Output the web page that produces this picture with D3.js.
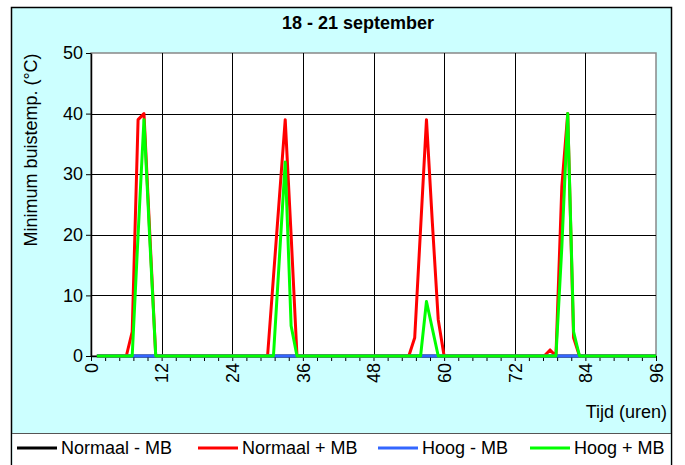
<!DOCTYPE html>
<html>
<head>
<meta charset="utf-8">
<script src="https://cdn.jsdelivr.net/npm/d3@7"></script>
<style>
  body { margin: 0; background: #fff; }
  svg { display: block; font-family: "Liberation Sans", Arial, sans-serif; }
</style>
</head>
<body>
<svg id="chart" width="685" height="465"></svg>
<script>
const width = 685
const height = 465

// hours 1..96, one value per hour
const hours = d3.range(1, 97)

const seriesNames = ['Normaal - MB', 'Normaal + MB', 'Hoog - MB', 'Hoog + MB']
const seriesColors = ['#000000', '#ff0000', '#3366ff', '#00ff00']

const normaalMin = [
  0, 0, 0, 0, 0, 0, 0, 0, 0, 0, 0, 0,
  0, 0, 0, 0, 0, 0, 0, 0, 0, 0, 0, 0,
  0, 0, 0, 0, 0, 0, 0, 0, 0, 0, 0, 0,
  0, 0, 0, 0, 0, 0, 0, 0, 0, 0, 0, 0,
  0, 0, 0, 0, 0, 0, 0, 0, 0, 0, 0, 0,
  0, 0, 0, 0, 0, 0, 0, 0, 0, 0, 0, 0,
  0, 0, 0, 0, 0, 0, 0, 0, 0, 0, 0, 0,
  0, 0, 0, 0, 0, 0, 0, 0, 0, 0, 0, 0
]
const normaalPlus = [
  0, 0, 0, 0, 0, 0, 4, 39, 40, 20, 0, 0,
  0, 0, 0, 0, 0, 0, 0, 0, 0, 0, 0, 0,
  0, 0, 0, 0, 0, 0, 13, 26, 39, 20, 0, 0,
  0, 0, 0, 0, 0, 0, 0, 0, 0, 0, 0, 0,
  0, 0, 0, 0, 0, 0, 3, 21, 39, 22, 6, 0,
  0, 0, 0, 0, 0, 0, 0, 0, 0, 0, 0, 0,
  0, 0, 0, 0, 0, 1, 0, 28, 40, 3, 0, 0,
  0, 0, 0, 0, 0, 0, 0, 0, 0, 0, 0, 0
]
const hoogMin = [
  0, 0, 0, 0, 0, 0, 0, 0, 0, 0, 0, 0,
  0, 0, 0, 0, 0, 0, 0, 0, 0, 0, 0, 0,
  0, 0, 0, 0, 0, 0, 0, 0, 0, 0, 0, 0,
  0, 0, 0, 0, 0, 0, 0, 0, 0, 0, 0, 0,
  0, 0, 0, 0, 0, 0, 0, 0, 0, 0, 0, 0,
  0, 0, 0, 0, 0, 0, 0, 0, 0, 0, 0, 0,
  0, 0, 0, 0, 0, 0, 0, 0, 0, 0, 0, 0,
  0, 0, 0, 0, 0, 0, 0, 0, 0, 0, 0, 0
]
const hoogPlus = [
  0, 0, 0, 0, 0, 0, 0, 20, 39, 19, 0, 0,
  0, 0, 0, 0, 0, 0, 0, 0, 0, 0, 0, 0,
  0, 0, 0, 0, 0, 0, 0, 16, 32, 5, 0, 0,
  0, 0, 0, 0, 0, 0, 0, 0, 0, 0, 0, 0,
  0, 0, 0, 0, 0, 0, 0, 0, 9, 4.5, 0, 0,
  0, 0, 0, 0, 0, 0, 0, 0, 0, 0, 0, 0,
  0, 0, 0, 0, 0, 0, 0, 18, 40, 4, 0, 0,
  0, 0, 0, 0, 0, 0, 0, 0, 0, 0, 0, 0
]
const seriesValues = [normaalMin, normaalPlus, hoogMin, hoogPlus]

const yTicks = [0, 10, 20, 30, 40, 50]
const xLabels = [0, 12, 24, 36, 48, 60, 72, 84, 96]
const xMinorCount = 40   // tick marks every 96/40 hours

const plot = { left: 91, right: 656, top: 53, bottom: 356 }

const x = d3.scaleLinear().domain([0, 96]).range([plot.left, plot.right])
const y = d3.scaleLinear().domain([0, 50]).range([plot.bottom, plot.top])

const svg = d3.select('#chart')

// outer frame + chart background
svg.append('rect')
  .attr('x', 11.5).attr('y', 7.5)
  .attr('width', 660).attr('height', 470)
  .attr('fill', '#ccffff')
  .attr('stroke', '#000').attr('stroke-width', 1.5)

// legend area
svg.append('rect')
  .attr('x', 12.5).attr('y', 433.5)
  .attr('width', 658).attr('height', 40)
  .attr('fill', '#fff')
svg.append('line')
  .attr('x1', 12).attr('x2', 671)
  .attr('y1', 433.5).attr('y2', 433.5)
  .attr('stroke', '#555')

// plot area
svg.append('rect')
  .attr('x', plot.left).attr('y', plot.top)
  .attr('width', plot.right - plot.left).attr('height', plot.bottom - plot.top)
  .attr('fill', '#fff')
  .attr('stroke', '#888').attr('stroke-width', 1.5)

// gridlines
svg.append('g')
  .selectAll('line')
  .data(yTicks.filter(v => v > 0 && v < 50))
  .enter().append('line')
  .attr('x1', plot.left).attr('x2', plot.right)
  .attr('y1', d => Math.round(y(d)) + 0.5).attr('y2', d => Math.round(y(d)) + 0.5)
  .attr('stroke', '#000').attr('stroke-width', 1)

svg.append('g')
  .selectAll('line')
  .data(xLabels.filter(v => v > 0 && v < 96))
  .enter().append('line')
  .attr('x1', d => Math.round(x(d)) + 0.5).attr('x2', d => Math.round(x(d)) + 0.5)
  .attr('y1', plot.top).attr('y2', plot.bottom)
  .attr('stroke', '#000').attr('stroke-width', 1)

// y axis
const yAxis = svg.append('g')
  .attr('transform', `translate(${plot.left},0)`)
  .call(d3.axisLeft(y).tickValues(yTicks).tickSize(5).tickPadding(3).tickSizeOuter(0))
yAxis.select('.domain').attr('stroke', '#000').attr('stroke-width', 1.5)
yAxis.selectAll('text')
  .attr('font-size', 18).attr('fill', '#000')
  .attr('font-family', '"Liberation Sans", Arial, sans-serif')

// x axis
const xTickVals = d3.range(xMinorCount + 1).map(i => i * 96 / xMinorCount)
const xAxis = svg.append('g')
  .attr('transform', `translate(0,${plot.bottom})`)
  .call(d3.axisBottom(x)
    .tickValues(xTickVals)
    .tickSize(5)
    .tickSizeOuter(0)
    .tickFormat((d, i) => i % 5 === 0 ? d3.format('d')(d) : ''))
xAxis.select('.domain').attr('stroke', '#000').attr('stroke-width', 1.5)
xAxis.selectAll('text')
  .attr('font-size', 18).attr('fill', '#000')
  .attr('font-family', '"Liberation Sans", Arial, sans-serif')
  .attr('text-anchor', 'end')
  .attr('dy', '0.35em')
  .attr('y', 0)
  .attr('transform', 'translate(0,7) rotate(-90)')

// series lines
const line = d3.line()
  .x((d, i) => x(hours[i]))
  .y(d => y(d))

svg.append('g')
  .selectAll('path')
  .data(seriesValues)
  .enter().append('path')
  .attr('d', d => line(d))
  .attr('fill', 'none')
  .attr('stroke', (d, i) => seriesColors[i])
  .attr('stroke-width', 3)
  .attr('stroke-linejoin', 'round')

// titles
svg.append('text')
  .attr('x', 358).attr('y', 29)
  .attr('text-anchor', 'middle')
  .attr('font-size', 18).attr('font-weight', 'bold')
  .text('18 - 21 september')

svg.append('text')
  .attr('transform', 'translate(37,150) rotate(-90)')
  .attr('text-anchor', 'middle')
  .attr('font-size', 18)
  .text('Minimum buistemp. (°C)')

svg.append('text')
  .attr('x', 667).attr('y', 418)
  .attr('text-anchor', 'end')
  .attr('font-size', 18)
  .text('Tijd (uren)')

// legend
const legendX = [17, 198, 378, 530]
const legend = svg.append('g')
  .selectAll('g')
  .data(seriesNames)
  .enter().append('g')
  .attr('transform', (d, i) => `translate(${legendX[i]},448)`)

legend.append('line')
  .attr('x1', 0).attr('x2', 40)
  .attr('stroke', (d, i) => seriesColors[i])
  .attr('stroke-width', 3)

legend.append('text')
  .attr('x', 44).attr('dy', '0.35em')
  .attr('font-size', 18)
  .text(d => d)
</script>
</body>
</html>
